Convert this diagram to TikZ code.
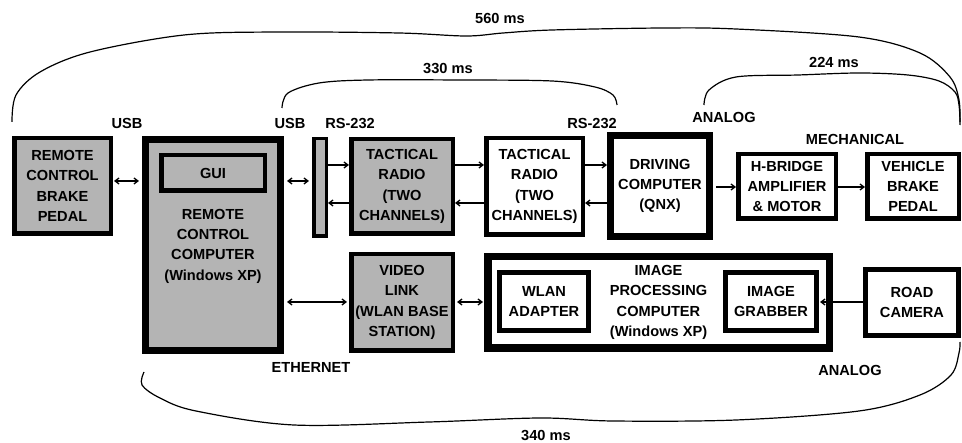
\documentclass[tikz,border=0pt]{standalone}
\usepackage{fontspec}
\setmainfont{Liberation Sans}
\usetikzlibrary{arrows.meta}
\definecolor{boxgray}{RGB}{180,180,180}
\begin{document}
\begin{tikzpicture}[x=1pt,y=-1pt,
  txt/.style={font=\fontsize{14.6}{20.3}\selectfont\bfseries, align=center, inner sep=0pt},
  blk/.style={txt, draw, rectangle, line width=#1},
  blk/.default=4.5pt,
  gbox/.style={blk=#1, fill=boxgray},
  gbox/.default=4.5pt,
  lbl/.style={txt},
  arr/.style={line width=1.3pt, -{Straight Barb[length=4pt,width=6pt]}},
  darr/.style={line width=1.3pt, {Straight Barb[length=4pt,width=6pt]}-{Straight Barb[length=4pt,width=6pt]}},
  curve/.style={line width=1.2pt}
]
\useasboundingbox (0,0) rectangle (962,443);

% boxes
\node[gbox, minimum width=96.5pt, minimum height=95.5pt] (bp) at (62.5,186) {REMOTE\\CONTROL\\BRAKE\\PEDAL};
\node[gbox=7pt, minimum width=135pt, minimum height=211pt] (rc) at (213,245) {};
\node[txt] (rct) at (213,246) {REMOTE\\CONTROL\\COMPUTER\\(Windows XP)};
\node[gbox, minimum width=103.5pt, minimum height=35.5pt] (gui) at (213,173) {GUI};
\node[gbox=3.5pt, minimum width=12.5pt, minimum height=97.5pt] (bar) at (320,187.5) {};
\node[gbox, minimum width=101.5pt, minimum height=94.5pt] (tr1) at (402,186.5) {TACTICAL\\RADIO\\(TWO\\CHANNELS)};
\node[gbox, minimum width=101.5pt, minimum height=96.5pt] (vl) at (402,302.5) {VIDEO\\LINK\\(WLAN BASE\\STATION)};
\node[blk, minimum width=96.5pt, minimum height=96.5pt] (tr2) at (534.5,186.5) {TACTICAL\\RADIO\\(TWO\\CHANNELS)};
\node[blk=7pt, minimum width=99pt, minimum height=101pt] (dc) at (660,186) {DRIVING\\COMPUTER\\(QNX)};
\node[blk, minimum width=97.5pt, minimum height=64.5pt] (hb) at (787,186.5) {H-BRIDGE\\AMPLIFIER\\\&\ MOTOR};
\node[blk, minimum width=91.5pt, minimum height=64.5pt] (vb) at (913,186.5) {VEHICLE\\BRAKE\\PEDAL};
\node[blk=7.5pt, minimum width=341.5pt, minimum height=91.5pt] (ip) at (658.5,302.5) {IMAGE\\PROCESSING\\COMPUTER\\(Windows XP)};
\node[blk=5pt, minimum width=89pt, minimum height=58pt] (wl) at (544,301.5) {WLAN\\ADAPTER};
\node[blk=5pt, minimum width=91pt, minimum height=58pt] (ig) at (771,301.5) {IMAGE\\GRABBER};
\node[blk=5pt, minimum width=93pt, minimum height=66pt] (cam) at (912,302.5) {ROAD\\CAMERA};

% connectors
\draw[darr, shorten <=1pt, shorten >=3pt] (bp.east |- 0,181) -- (rc.west |- 0,181);
\draw[darr, shorten <=3pt, shorten >=3pt] (rc.east |- 0,181) -- (bar.west |- 0,181);
\draw[arr] (bar.east |- 0,165) -- (tr1.west |- 0,165);
\draw[arr] (tr1.west |- 0,203) -- (bar.east |- 0,203);
\draw[arr] (tr1.east |- 0,165) -- (tr2.west |- 0,165);
\draw[arr] (tr2.west |- 0,203) -- (tr1.east |- 0,203);
\draw[arr] (tr2.east |- 0,165) -- (dc.west |- 0,165);
\draw[arr] (dc.west |- 0,203) -- (tr2.east |- 0,203);
\draw[arr, shorten <=3pt] (dc.east |- 0,187) -- (hb.west |- 0,187);
\draw[arr] (hb.east |- 0,187) -- (vb.west |- 0,187);
\draw[darr, shorten <=3pt, shorten >=2pt] (rc.east |- 0,302) -- (vl.west |- 0,302);
\draw[darr, shorten <=2pt, shorten >=1pt] (vl.east |- 0,302) -- (ip.west |- 0,302);
\draw[arr, shorten >=1pt] (cam.west |- 0,302) -- (ig.east |- 0,302);

% labels
\node[lbl] (usb1) at (127,123) {USB};
\node[lbl] (usb2) at (290,123) {USB};
\node[lbl] (rs1) at (350,123) {RS-232};
\node[lbl] (rs2) at (592,123) {RS-232};
\node[lbl] (an1) at (724,117) {ANALOG};
\node[lbl] (mech) at (855,139) {MECHANICAL};
\node[lbl] (t560) at (500,18) {560 ms};
\node[lbl] (t330) at (448,68) {330 ms};
\node[lbl] (t224) at (834,62) {224 ms};
\node[lbl] (eth) at (311,367) {ETHERNET};
\node[lbl] (an2) at (850,370) {ANALOG};
\node[lbl] (t340) at (546,435) {340 ms};

% latency curves
\draw[curve] plot[smooth, tension=0.55] coordinates {(12,122) (16,95) (40,72) (90,52) (184,35) (276,32) (399,33) (466,36) (503,33) (552,30) (663,28) (736,29) (859,37) (920,53) (950,77) (959,100) (960,125)};
\draw[curve] plot[smooth, tension=0.55] coordinates {(282,108) (288,93) (319,83) (368,80) (460,80) (552,81) (595,87) (613,95) (617,105)};
\draw[curve] plot[smooth, tension=0.55] coordinates {(704,105) (709,90) (736,77) (798,75) (859,73) (908,75) (939,81) (955,92) (959,105) (960,122)};
\draw[curve] plot[smooth, tension=0.55] coordinates {(144,372) (142,385) (160,398) (196,411) (294,425) (429,422) (540,418) (613,421) (736,420) (859,411) (920,395) (951,375) (959,353) (960,342)};
\end{tikzpicture}
\end{document}
